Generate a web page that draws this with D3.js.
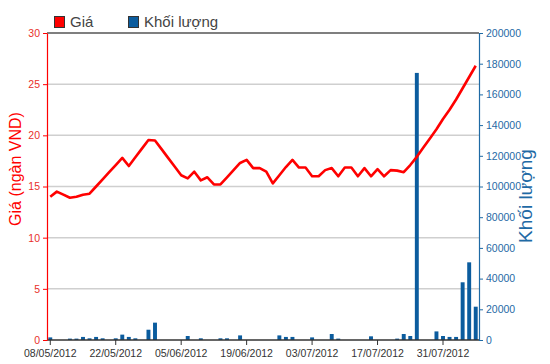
<!DOCTYPE html>
<meta charset="utf-8">
<head>
    <script type="text/javascript" src="https://cdn.jsdelivr.net/npm/d3@7/dist/d3.min.js"></script>
    <style>
        body { margin: 0; background: #fff; }
        svg { display: block; font-family: "Liberation Sans", Arial, sans-serif; }
    </style>
</head>
<body>
<div id="chart"></div>
</body>
<script>
    // trading days (dd/mm), 2012
    var days = ["08/05","09/05","10/05","11/05","14/05","15/05","16/05","17/05","18/05","21/05",
        "22/05","23/05","24/05","25/05","28/05","29/05","30/05","31/05","01/06","04/06",
        "05/06","06/06","07/06","08/06","11/06","12/06","13/06","14/06","15/06","18/06",
        "19/06","20/06","21/06","22/06","25/06","26/06","27/06","28/06","29/06","02/07",
        "03/07","04/07","05/07","06/07","09/07","10/07","11/07","12/07","13/07","16/07",
        "17/07","18/07","19/07","20/07","23/07","24/07","25/07","26/07","27/07","30/07",
        "31/07","01/08","02/08","03/08","06/08","07/08"];

    // Giá (ngàn VND)
    var price = [14.0,14.5,14.2,13.9,14.0,14.2,14.3,15.0,15.7,16.4,
        17.1,17.8,17.0,17.85,18.7,19.55,19.5,18.65,17.8,16.95,
        16.1,15.8,16.45,15.6,15.9,15.2,15.2,15.9,16.6,17.3,
        17.6,16.8,16.8,16.45,15.3,16.1,16.9,17.6,16.85,16.85,
        16.0,16.0,16.6,16.8,16.0,16.85,16.85,16.0,16.8,16.0,
        16.7,16.0,16.6,16.55,16.4,17.1,17.9,18.8,19.7,20.6,
        21.6,22.5,23.5,24.6,25.7,26.8];

    // Khối lượng
    var volume = [1700,0,0,900,900,2000,1100,2000,1100,0,
        1100,3500,2000,1100,0,6700,11300,0,0,0,
        0,2600,0,1100,0,0,1100,1100,0,3000,
        0,0,0,0,0,3000,2000,2000,0,0,
        1700,0,0,3900,900,0,0,0,0,2400,
        0,0,0,900,3900,2600,174000,0,0,5600,
        2600,2000,2000,37600,50600,21700];

    var xTicks = ["08/05","22/05","05/06","19/06","03/07","17/07","31/07"];
    var priceTicks = [0, 5, 10, 15, 20, 25, 30];
    var volTicks = [0, 20000, 40000, 60000, 80000, 100000, 120000, 140000, 160000, 180000, 200000];

    var red = "#ff0000", blue = "#0b5c9e", blueText = "#1f6aa5";

    var margin = {top: 33, right: 71, bottom: 24, left: 47};
    var W = 550, H = 364;
    var width = W - margin.left - margin.right;
    var height = H - margin.top - margin.bottom;

    var svg = d3.select("#chart").append("svg")
        .attr("width", W).attr("height", H);
    var g = svg.append("g").attr("transform", "translate(" + margin.left + "," + margin.top + ")");

    var x = d3.scaleBand().domain(days).range([0, width]).padding(0.4).paddingOuter(0.2);
    var yP = d3.scaleLinear().domain([0, 30]).range([height, 0]);
    var yV = d3.scaleLinear().domain([0, 200000]).range([height, 0]);
    var cx = function (d) { return x(d) + x.bandwidth() / 2; };

    // gridlines
    g.selectAll(".grid").data(priceTicks.slice(1, -1)).enter().append("line")
        .attr("x1", 0).attr("x2", width)
        .attr("y1", d => yP(d)).attr("y2", d => yP(d))
        .attr("stroke", "#cfcfcf").attr("stroke-width", 1.5);

    // top border
    g.append("line").attr("x1", 0).attr("x2", width).attr("y1", 0).attr("y2", 0)
        .attr("stroke", "#555").attr("stroke-width", 1.5);

    // volume bars
    g.selectAll(".bar").data(volume).enter().append("rect")
        .attr("x", (d, i) => x(days[i]))
        .attr("width", x.bandwidth())
        .attr("y", d => yV(d))
        .attr("height", d => height - yV(d))
        .attr("fill", blue);

    // price line
    var line = d3.line().x((d, i) => cx(days[i])).y(d => yP(d));
    g.append("path").datum(price)
        .attr("d", line)
        .attr("fill", "none").attr("stroke", red)
        .attr("stroke-width", 2.6).attr("stroke-linejoin", "round");

    // x axis
    var xAxis = g.append("g").attr("transform", "translate(0," + height + ")")
        .call(d3.axisBottom(x).tickValues(xTicks).tickSize(5).tickSizeOuter(0)
            .tickFormat(d => d + "/2012"));
    xAxis.select(".domain").attr("stroke", "#333").attr("stroke-width", 1.5)
        .attr("d", "M0,0H" + width);
    xAxis.selectAll(".tick line").attr("stroke", "#333");
    xAxis.selectAll("text").attr("fill", "#333").attr("font-size", "10.5px").attr("dy", "0.85em");

    // left axis
    var yLeft = g.append("g")
        .call(d3.axisLeft(yP).tickValues(priceTicks).tickSize(4).tickSizeOuter(0).tickPadding(3));
    yLeft.select(".domain").attr("stroke", red).attr("stroke-width", 1.2);
    yLeft.selectAll(".tick line").attr("stroke", red);
    yLeft.selectAll("text").attr("fill", "#e8302a").attr("font-size", "10.5px");

    // right axis
    var yRight = g.append("g").attr("transform", "translate(" + width + ",0)")
        .call(d3.axisRight(yV).tickValues(volTicks).tickSize(4).tickSizeOuter(0).tickPadding(3)
            .tickFormat(d3.format("d")));
    yRight.select(".domain").attr("stroke", blueText).attr("stroke-width", 1.2);
    yRight.selectAll(".tick line").attr("stroke", blueText);
    yRight.selectAll("text").attr("fill", blueText).attr("font-size", "10.5px");

    // axis titles
    svg.append("text")
        .attr("transform", "translate(21,169) rotate(-90)")
        .attr("text-anchor", "middle")
        .attr("fill", red).attr("font-size", "16px")
        .text("Giá (ngàn VND)");
    svg.append("text")
        .attr("transform", "translate(532,196) rotate(-90)")
        .attr("text-anchor", "middle")
        .attr("fill", blueText).attr("font-size", "19px")
        .text("Khối lượng");

    // legend
    var legend = svg.append("g");
    var items = [{name: "Giá", color: red, x: 54}, {name: "Khối lượng", color: blue, x: 128}];
    items.forEach(function (it) {
        legend.append("rect").attr("x", it.x + 0.5).attr("y", 16.5)
            .attr("width", 10).attr("height", 11)
            .attr("fill", it.color).attr("stroke", "#333").attr("stroke-width", 1);
        legend.append("text").attr("x", it.x + 16).attr("y", 27)
            .attr("fill", "#444").attr("font-size", "15px").text(it.name);
    });
</script>
</html>
